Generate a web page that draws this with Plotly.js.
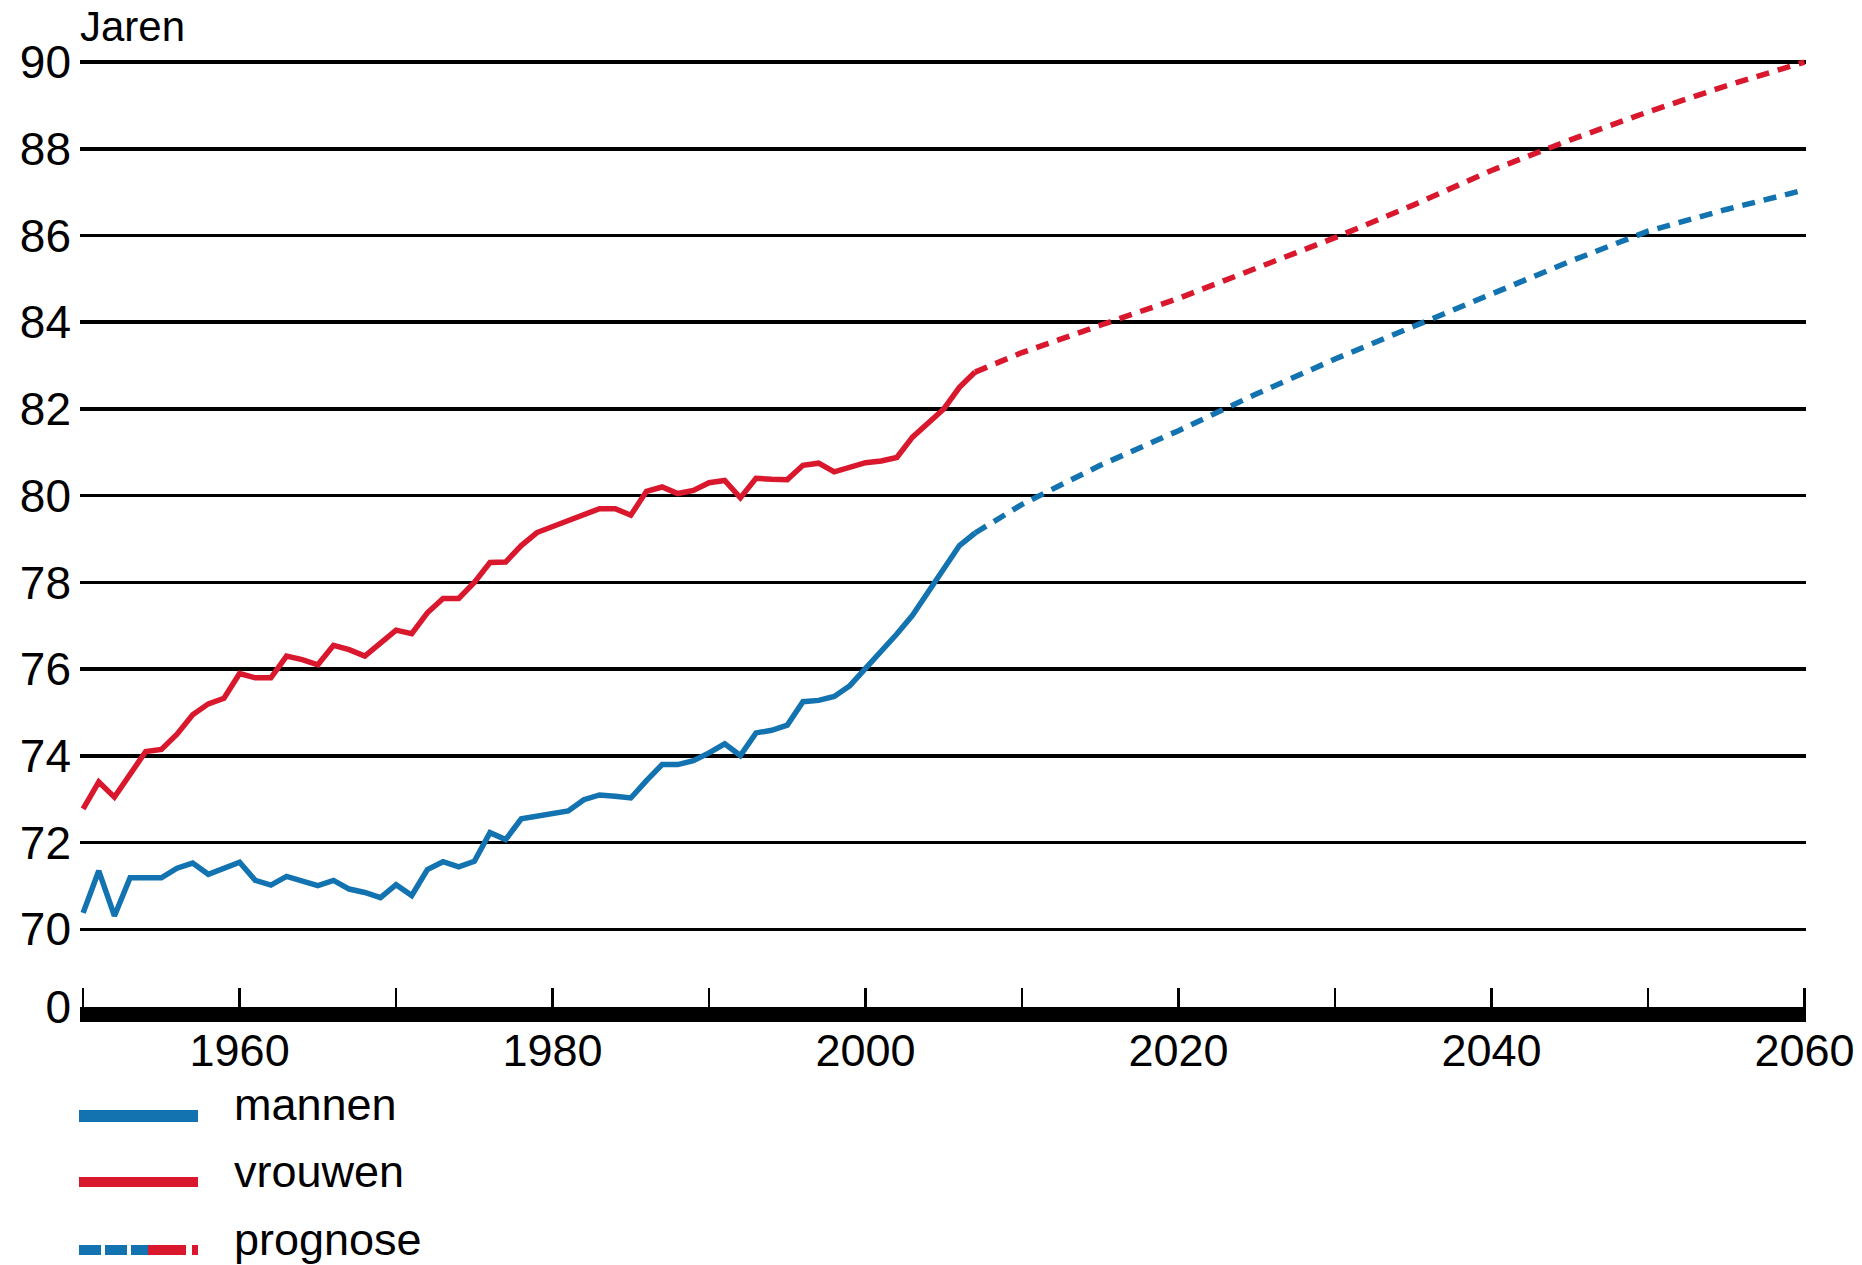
<!DOCTYPE html>
<html>
<head>
<meta charset="utf-8">
<script src="https://cdn.plot.ly/plotly-3.0.1.min.js"></script>
<style>html,body{margin:0;padding:0;background:#ffffff;}</style>
</head>
<body>
<div id="chart" style="width:1862px;height:1265px;"></div>
<script>
// ---------- data ----------
const histYears = [1950,1951,1952,1953,1954,1955,1956,1957,1958,1959,
  1960,1961,1962,1963,1964,1965,1966,1967,1968,1969,
  1970,1971,1972,1973,1974,1975,1976,1977,1978,1979,
  1980,1981,1982,1983,1984,1985,1986,1987,1988,1989,
  1990,1991,1992,1993,1994,1995,1996,1997,1998,1999,
  2000,2001,2002,2003,2004,2005,2006,2007];
const mannen = [70.38,71.35,70.31,71.19,71.19,71.19,71.41,71.53,71.27,71.40,
  71.55,71.13,71.02,71.22,71.12,71.01,71.13,70.93,70.85,70.73,
  71.03,70.78,71.38,71.56,71.44,71.57,72.23,72.07,72.55,72.61,
  72.67,72.73,72.99,73.10,73.07,73.03,73.43,73.80,73.80,73.89,
  74.07,74.28,74.01,74.53,74.59,74.71,75.25,75.28,75.37,75.62,
  76.02,76.41,76.81,77.24,77.77,78.31,78.85,79.14];
const vrouwen = [72.78,73.40,73.05,73.55,74.10,74.15,74.50,74.95,75.20,75.33,
  75.90,75.80,75.80,76.30,76.22,76.10,76.55,76.45,76.30,76.60,
  76.90,76.82,77.30,77.63,77.63,78.00,78.46,78.47,78.85,79.15,
  79.28,79.42,79.56,79.70,79.70,79.55,80.10,80.20,80.05,80.12,
  80.30,80.35,79.95,80.40,80.38,80.37,80.70,80.75,80.55,80.65,
  80.76,80.80,80.88,81.35,81.66,82.00,82.50,82.85];
const progYears = [2007,2010,2015,2020,2025,2030,2035,2040,2045,2050,2055,2060];
const mannenPrognose  = [79.14,79.80,80.70,81.50,82.35,83.15,83.90,84.65,85.40,86.10,86.60,87.05];
const vrouwenPrognose = [82.85,83.30,83.93,84.55,85.25,85.95,86.70,87.50,88.20,88.85,89.45,90.00];
const xTickVals = [1950,1960,1970,1980,1990,2000,2010,2020,2030,2040,2050,2060];
const xTickText = ['','1960','','1980','','2000','','2020','','2040','','2060'];
const yTickText = ['0','70','72','74','76','78','80','82','84','86','88','90'];
const yGridVals = [70,72,74,76,78,80,82,84,86,88,90];
const legendLabels = ['mannen','vrouwen','prognose'];
const yLabel = 'Jaren';

// ---------- style ----------
const BLUE = '#1273b0';
const RED = '#d9182d';
const FONT = 'Liberation Sans, Arial, sans-serif';
const axisBreak = 68.21;           // where the "0" of the broken axis sits
const yTickVals = [axisBreak].concat(yGridVals);

const M = {l: 80, r: 56, t: 49, b: 258};
const W = 1862, H = 1265;
const PW = W - M.l - M.r, PH = H - M.t - M.b;
const px = X => (X - M.l) / PW;           // pixel -> paper x
const py = Y => (H - M.b - Y) / PH;       // pixel -> paper y

const traces = [
  {x: histYears, y: mannen, type: 'scatter', mode: 'lines', name: legendLabels[0],
   line: {color: BLUE, width: 5.5, shape: 'linear'}},
  {x: histYears, y: vrouwen, type: 'scatter', mode: 'lines', name: legendLabels[1],
   line: {color: RED, width: 5.5}},
  {x: progYears, y: mannenPrognose, type: 'scatter', mode: 'lines', name: legendLabels[2] + ' mannen',
   line: {color: BLUE, width: 5.5, dash: '13px,9px'}},
  {x: progYears, y: vrouwenPrognose, type: 'scatter', mode: 'lines', name: legendLabels[2] + ' vrouwen',
   line: {color: RED, width: 5.5, dash: '13px,9px'}}
];

const legY = [1116, 1182, 1250];
const legTextY = [1104, 1171, 1239];
const shapes = [
  {type: 'line', xref: 'paper', yref: 'paper', x0: px(79), x1: px(198), y0: py(legY[0]), y1: py(legY[0]),
   line: {color: BLUE, width: 12}},
  {type: 'line', xref: 'paper', yref: 'paper', x0: px(79), x1: px(198), y0: py(legY[1]), y1: py(legY[1]),
   line: {color: RED, width: 10}},
  {type: 'line', xref: 'paper', yref: 'paper', x0: px(79), x1: px(148), y0: py(legY[2]), y1: py(legY[2]),
   line: {color: BLUE, width: 10, dash: '22px,4px'}},
  {type: 'line', xref: 'paper', yref: 'paper', x0: px(148), x1: px(198), y0: py(legY[2]), y1: py(legY[2]),
   line: {color: RED, width: 10, dash: '38px,6px'}}
];

const annotations = legendLabels.map((t, i) => ({
  text: t, xref: 'paper', yref: 'paper', x: px(232), y: py(legTextY[i]),
  xanchor: 'left', yanchor: 'middle', showarrow: false,
  font: {family: FONT, size: 45, color: '#000'}
}));
annotations.push({
  text: yLabel, xref: 'paper', yref: 'paper', x: px(78), y: py(27),
  xanchor: 'left', yanchor: 'middle', showarrow: false,
  font: {family: FONT, size: 42, color: '#000'}
});

const layout = {
  width: W, height: H,
  margin: {l: M.l, r: M.r, t: M.t, b: M.b, pad: 0},
  paper_bgcolor: '#ffffff', plot_bgcolor: '#ffffff',
  showlegend: false,
  xaxis: {
    range: [1949.8, 2060.1],
    tickmode: 'array', tickvals: xTickVals, ticktext: xTickText,
    ticks: 'inside', ticklen: 19, tickwidth: 2.5, tickcolor: '#000',
    showline: true, linecolor: '#000', linewidth: 15,
    showgrid: false, zeroline: false,
    tickfont: {family: FONT, size: 45, color: '#000'},
    ticklabelstandoff: -10
  },
  yaxis: {
    range: [axisBreak, 90.3],
    tickmode: 'array', tickvals: yTickVals, ticktext: yTickText,
    ticks: '', showline: false, zeroline: false,
    showgrid: true, gridcolor: '#000', gridwidth: 3.5,
    tickfont: {family: FONT, size: 46, color: '#000'},
    ticklabelstandoff: 8
  },
  shapes: shapes,
  annotations: annotations
};

Plotly.newPlot('chart', traces, layout, {displayModeBar: false, staticPlot: true});
</script>
</body>
</html>
